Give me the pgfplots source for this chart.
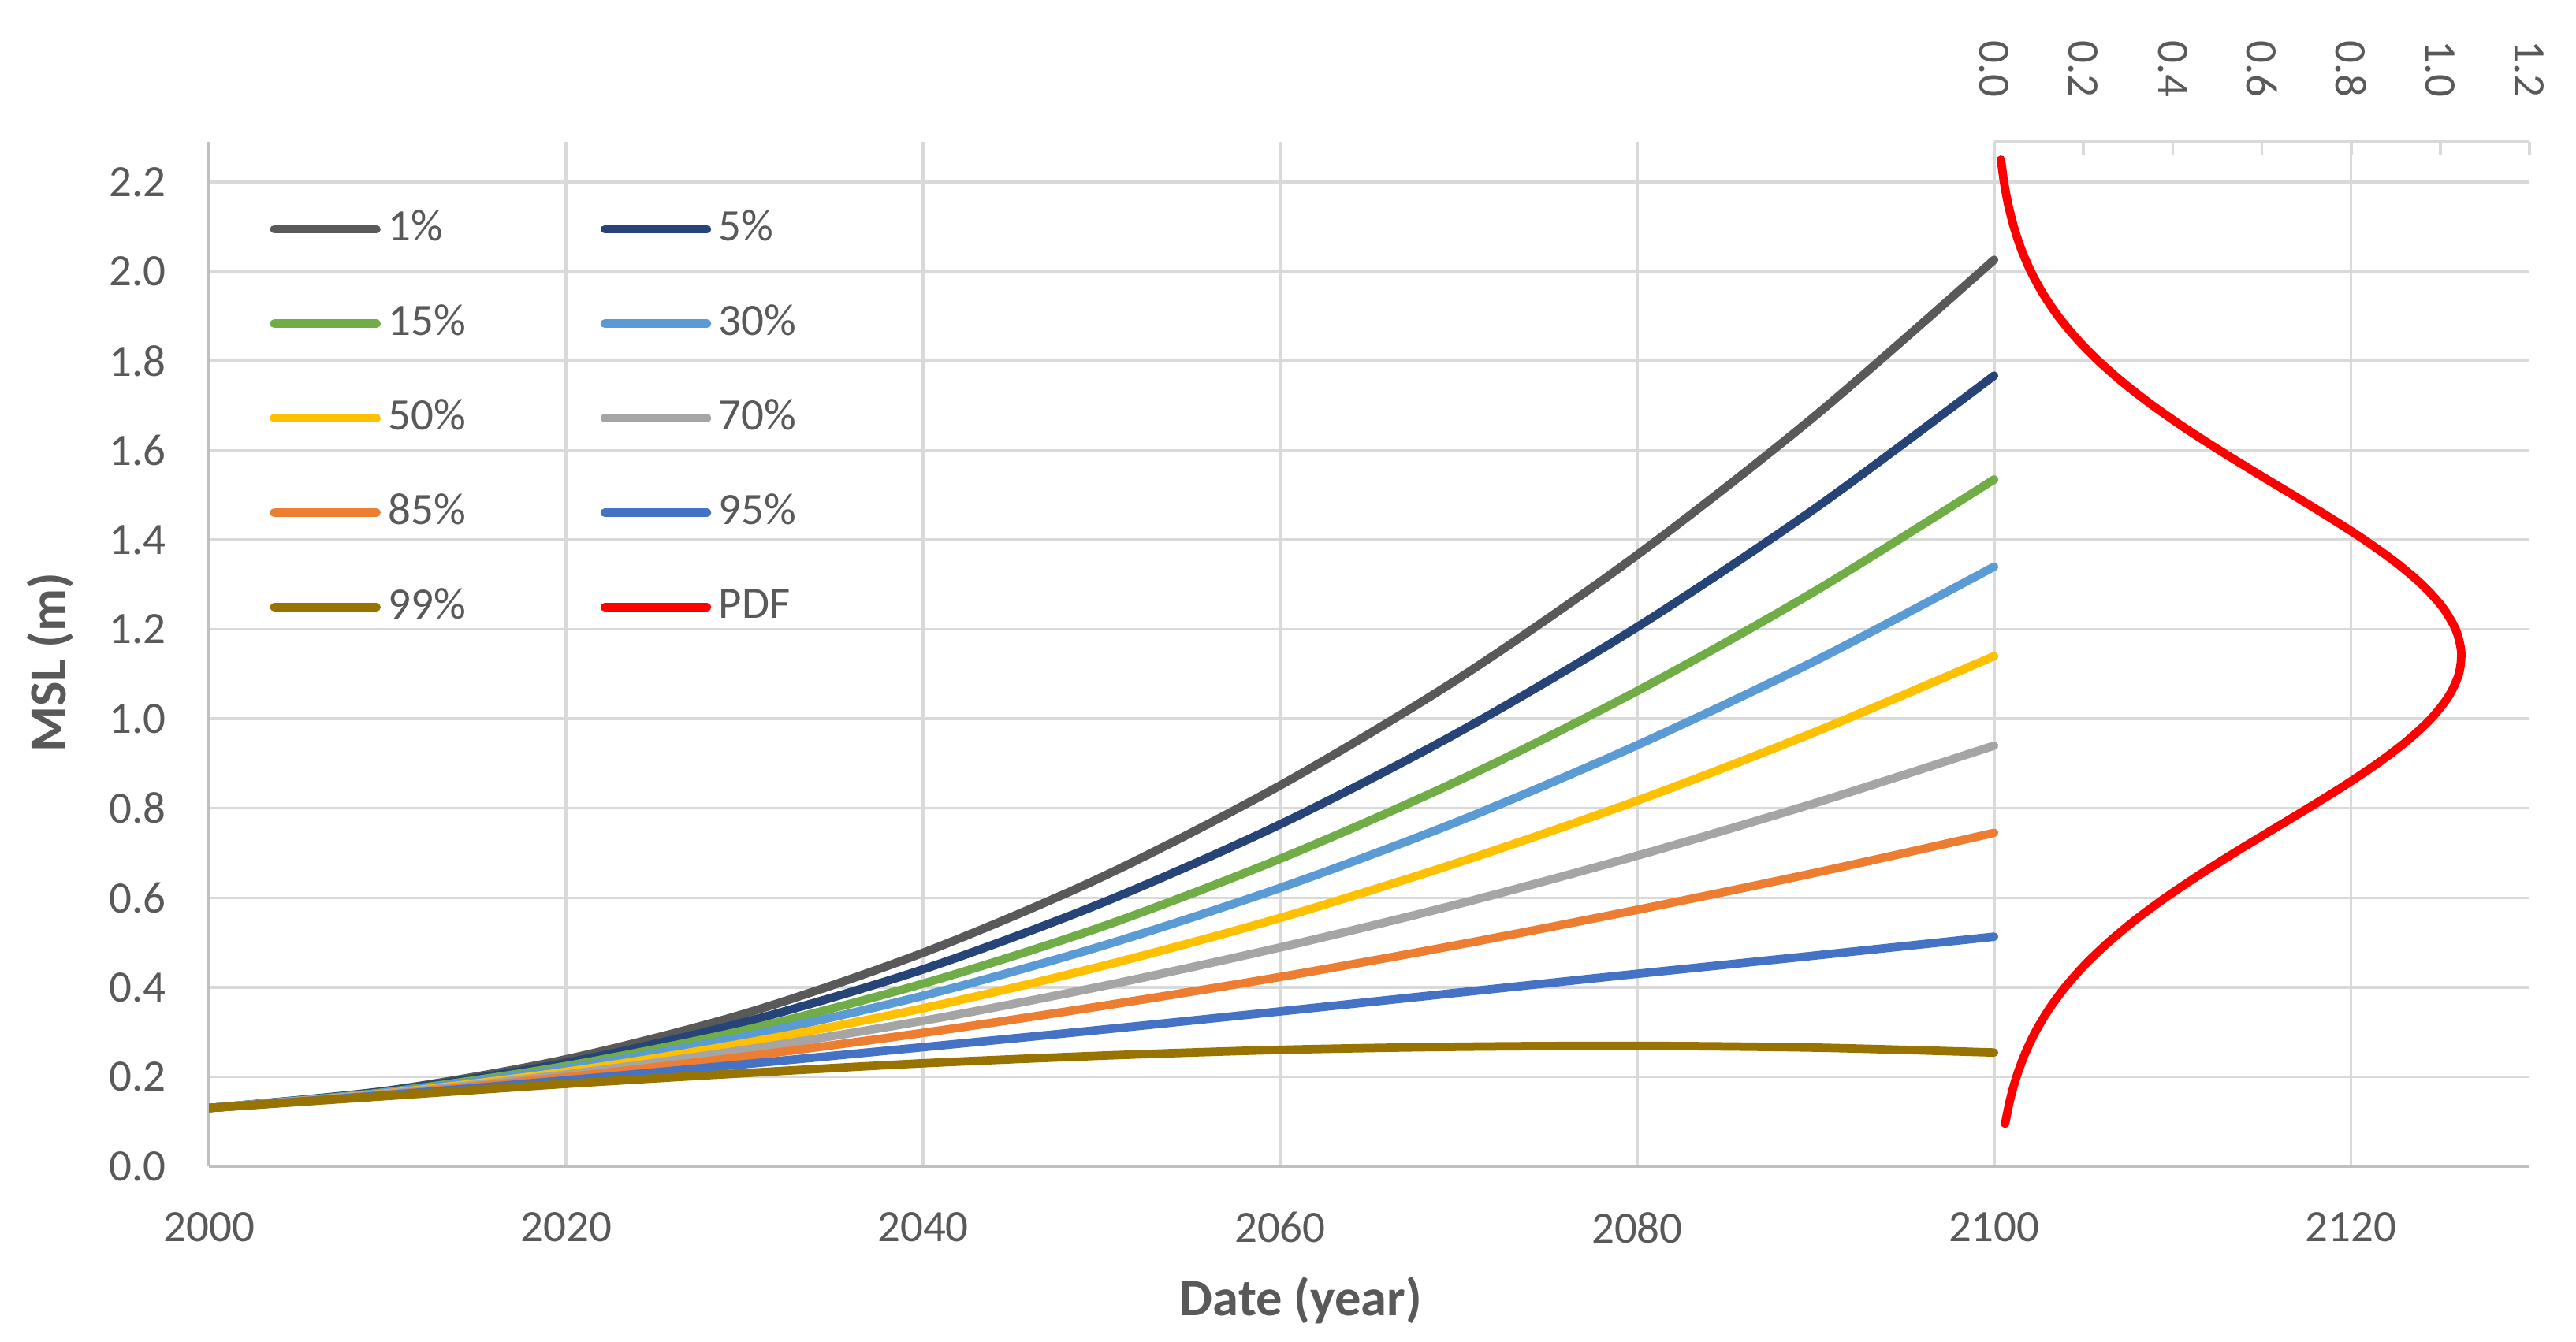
\documentclass[border=0pt]{standalone}
\usepackage{fontspec}
\setmainfont{Carlito}
\usepackage{pgfplots}
\usepackage{pgfplotstable}
\pgfplotsset{compat=1.18}
\definecolor{cA}{HTML}{595959}
\definecolor{cB}{HTML}{264478}
\definecolor{cC}{HTML}{70AD47}
\definecolor{cD}{HTML}{5B9BD5}
\definecolor{cE}{HTML}{FFC000}
\definecolor{cF}{HTML}{A5A5A5}
\definecolor{cG}{HTML}{ED7D31}
\definecolor{cH}{HTML}{4472C4}
\definecolor{cI}{HTML}{997300}
\definecolor{pdfred}{HTML}{FF0000}
\definecolor{gridgray}{HTML}{D9D9D9}
\definecolor{axisgray}{HTML}{BFBFBF}
\definecolor{textgray}{HTML}{595959}

\pgfplotstableread{
year p01 p05 p15 p30 p50 p70 p85 p95 p99
2000 0.130 0.130 0.130 0.130 0.130 0.130 0.130 0.130 0.130
2010 0.169 0.168 0.166 0.165 0.163 0.162 0.160 0.159 0.157
2020 0.239 0.231 0.224 0.218 0.211 0.205 0.199 0.192 0.184
2030 0.341 0.322 0.304 0.290 0.275 0.260 0.245 0.228 0.208
2040 0.477 0.440 0.408 0.381 0.353 0.325 0.298 0.266 0.230
2050 0.646 0.588 0.535 0.492 0.447 0.402 0.358 0.305 0.247
2060 0.851 0.764 0.687 0.622 0.555 0.489 0.423 0.346 0.260
2070 1.090 0.970 0.862 0.771 0.679 0.586 0.495 0.388 0.267
2080 1.366 1.205 1.062 0.941 0.817 0.694 0.573 0.430 0.269
2090 1.678 1.471 1.286 1.130 0.971 0.812 0.656 0.471 0.265
2100 2.026 1.767 1.535 1.340 1.140 0.940 0.745 0.513 0.254
}\msl

\pgfplotstableread{
p h
0.0243 0.095
0.0358 0.15
0.0499 0.2
0.0684 0.25
0.0921 0.3
0.1220 0.35
0.1588 0.4
0.2031 0.45
0.2554 0.5
0.3157 0.55
0.3835 0.6
0.4580 0.65
0.5374 0.7
0.6200 0.75
0.7031 0.8
0.7837 0.85
0.8585 0.9
0.9246 0.95
0.9787 1.0
1.0182 1.05
1.0413 1.1
1.0466 1.15
1.0341 1.2
1.0043 1.25
0.9587 1.3
0.8995 1.35
0.8296 1.4
0.7519 1.45
0.6700 1.5
0.5867 1.55
0.5052 1.6
0.4274 1.65
0.3555 1.7
0.2906 1.75
0.2335 1.8
0.1845 1.85
0.1431 1.9
0.1093 1.95
0.0820 2.0
0.0604 2.05
0.0438 2.1
0.0312 2.15
0.0218 2.2
0.0150 2.25
}\pdf

\begin{document}
\begin{tikzpicture}
\useasboundingbox (-41.9pt,-35.2pt) rectangle (474.4pt,233.8pt);
\begin{axis}[name=main, at={(0,0)}, anchor=south west,
  scale only axis, width=465.1pt, height=205.4pt,
  xmin=2000, xmax=2130, ymin=0, ymax=2.29,
  enlargelimits=false,
  axis lines*=left,
  axis line style={draw=axisgray, line width=0.55pt},
  xtick={2000,2020,2040,2060,2080,2100,2120},
  ytick={0,0.2,0.4,0.6,0.8,1.0,1.2,1.4,1.6,1.8,2.0,2.2},
  grid=major,
  major grid style={draw=gridgray, line width=0.55pt},
  major tick length=0pt,
  /pgf/number format/assume math mode=true,
  tick label style={font=\fontsize{9}{10.8}\selectfont, text=textgray, inner sep=0pt},
  xticklabel shift=9pt, yticklabel shift=8.4pt,
  xticklabel style={/pgf/number format/1000 sep={}},
  yticklabel style={/pgf/number format/fixed, /pgf/number format/fixed zerofill, /pgf/number format/precision=1},
  xlabel={Date (year)}, ylabel={MSL (m)},
  label style={font=\fontsize{10.5}{12.6}\selectfont\bfseries, text=textgray},
  xlabel style={at={(axis description cs:0.4705,-0.1456)}, anchor=base},
  ylabel style={at={(axis description cs:-0.0618,0.4915)}, anchor=base},
  legend columns=2,
  legend image code/.code={\draw[#1, line width=1.7pt, line cap=round] (0pt,0pt) -- (20.5pt,0pt);},
  legend style={draw=none, fill=none, at={(axis description cs:0.02623,0.9331)}, anchor=north west,
    inner sep=0pt, outer sep=0pt, row sep=11.3pt,
    font=\fontsize{9}{10.8}\selectfont, text=textgray,
    cells={anchor=west},
    nodes={inner sep=0pt},
    /tikz/every odd column/.append style={column sep=1.5pt},
    /tikz/every even column/.append style={column sep=27pt}},
  every axis plot/.append style={line width=1.7pt, line cap=round, smooth},
]
\addplot[cA] table[x=year, y=p01] {\msl}; \addlegendentry{1\%}
\addplot[cB] table[x=year, y=p05] {\msl}; \addlegendentry{5\%}
\addplot[cC] table[x=year, y=p15] {\msl}; \addlegendentry{15\%}
\addplot[cD] table[x=year, y=p30] {\msl}; \addlegendentry{30\%}
\addplot[cE] table[x=year, y=p50] {\msl}; \addlegendentry{50\%}
\addplot[cF] table[x=year, y=p70] {\msl}; \addlegendentry{70\%}
\addplot[cG] table[x=year, y=p85] {\msl}; \addlegendentry{85\%}
\addplot[cH] table[x=year, y=p95] {\msl}; \addlegendentry{95\%}
\addplot[cI] table[x=year, y=p99] {\msl}; \addlegendentry{99\%}
\addlegendimage{pdfred}\addlegendentry{PDF}
\end{axis}
\begin{axis}[at={(main.south east)}, anchor=south east,
  scale only axis, width=107.3pt, height=205.4pt,
  xmin=0, xmax=1.2, ymin=0, ymax=2.29,
  enlargelimits=false, clip=false,
  axis x line*=top, axis y line=none,
  axis line style={draw=gridgray, line width=0.55pt},
  xtick={0,0.2,0.4,0.6,0.8,1.0,1.2}, ytick=\empty,
  xtick align=inside, major tick length=2.7pt,
  tick style={draw=gridgray, line width=0.55pt},
  /pgf/number format/assume math mode=true,
  xticklabel style={font=\fontsize{9}{10.8}\selectfont, text=textgray, inner sep=0pt,
    rotate=-90, anchor=east,
    /pgf/number format/fixed, /pgf/number format/fixed zerofill, /pgf/number format/precision=1},
  xticklabel shift=8.7pt,
]
\addplot[pdfred, line width=1.7pt, line cap=round, smooth] table[x=p, y=h] {\pdf};
\end{axis}
\end{tikzpicture}
\end{document}
